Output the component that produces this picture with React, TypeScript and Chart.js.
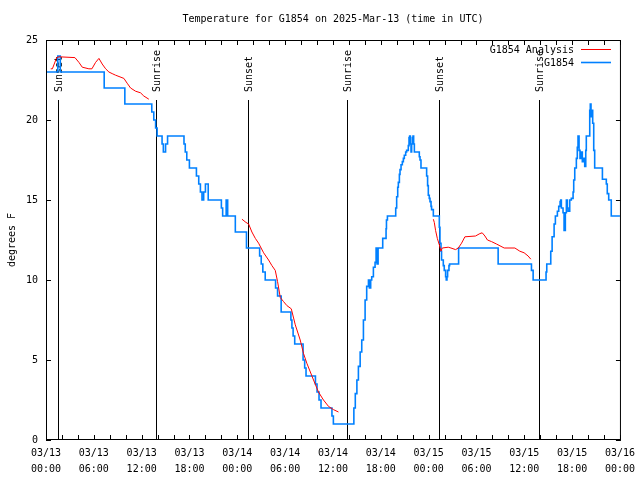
import React, { useEffect, useRef } from 'react';
import { Chart, registerables } from 'chart.js';

Chart.register(...registerables);

const TITLE = 'Temperature for G1854 on 2025-Mar-13 (time in UTC)';
const Y_TITLE = 'degrees F';
const SERIES_NAMES = ['G1854 Analysis', 'G1854'];
const SERIES_COLORS = ['#ff0000', '#0080ff'];

const xTickDates = ['03/13', '03/13', '03/13', '03/13', '03/14', '03/14', '03/14', '03/14', '03/15', '03/15', '03/15', '03/15', '03/16'];
const xTickTimes = ['00:00', '06:00', '12:00', '18:00', '00:00', '06:00', '12:00', '18:00', '00:00', '06:00', '12:00', '18:00', '00:00'];

// hours since 03/13 00:00 UTC
const eventHours = [1.48, 13.77, 25.3, 37.82, 49.34, 61.86];
const eventLabels = ['Sunset', 'Sunrise', 'Sunset', 'Sunrise', 'Sunset', 'Sunrise'];

const analysisHours = [
  0.59, 0.8, 1.34, 1.63, 3.63, 4.13, 4.55, 5.38, 5.76, 6.22, 6.64, 7.05, 7.48, 7.89, 8.3, 8.73, 9.77, 10.18, 10.61, 11.23, 11.86, 12.27, 12.9,
  18,
  24.58, 25.08, 25.42, 25.83, 26.26, 26.67, 27.3, 27.92, 28.34, 28.76, 29.05, 29.39, 29.8, 30.22, 30.77, 31.27, 31.89, 32.31, 32.72, 33.56, 34.18, 34.81, 35.44, 36.06, 36.69,
  42,
  48.59, 48.71, 48.87, 49.09, 49.34, 49.55, 49.71, 50.46, 50.8, 51.38, 51.72, 52.13, 52.55, 53.88, 54.43, 54.72, 55.06, 55.38, 55.89, 56.51, 57.48, 58.82, 59.44, 59.98, 60.48, 60.82,
];
const analysisTemps: (number | null)[] = [
  23.2, 23.2, 23.9, 23.95, 23.9, 23.6, 23.3, 23.2, 23.2, 23.6, 23.85, 23.5, 23.2, 23.0, 22.9, 22.8, 22.6, 22.3, 22.0, 21.8, 21.7, 21.5, 21.3,
  null,
  13.8, 13.6, 13.5, 13.0, 12.6, 12.3, 11.7, 11.25, 10.9, 10.6, 9.9, 8.9, 8.65, 8.4, 8.2, 7.2, 6.25, 5.4, 4.8, 3.75, 3.0, 2.5, 2.1, 1.9, 1.75,
  null,
  13.8, 13.6, 13.1, 12.6, 12.2, 11.8, 12.0, 12.05, 12.0, 11.9, 12.0, 12.3, 12.7, 12.75, 12.9, 12.95, 12.75, 12.5, 12.4, 12.25, 12.0, 12.0, 11.8, 11.7, 11.5, 11.3,
];

const obsHours = [
  0, 1.48, 1.79, 7.3, 9.89, 13.27, 13.52, 13.75, 13.94, 14.56, 14.72, 15.0, 15.25, 17.31, 17.47, 17.66, 17.99, 18.87, 19.16, 19.37, 19.57, 19.78, 20.0, 20.35,
  22.0, 22.16, 22.6, 22.79, 23.75, 25.15, 26.8, 27.0, 27.2, 27.5, 28.8, 29.05, 29.5, 30.72, 30.85, 31.0, 31.2, 32.25, 32.45, 32.62, 33.8, 34.0, 34.25, 34.5, 35.87, 36.05,
  38.62, 38.8, 39.0, 39.19, 39.41, 39.61, 39.82, 40.03, 40.23, 40.45, 40.57, 40.73, 40.86, 41.07, 41.28, 41.41, 41.53, 41.66, 42.24, 42.66, 42.71, 42.83, 43.04,
  43.87, 43.99, 44.12, 44.2, 44.33, 44.41, 44.54, 44.7, 44.83, 44.95, 45.12, 45.24, 45.45, 45.54, 45.62, 45.71, 45.79, 45.87, 45.96, 46.04, 46.12, 46.21,
  46.83, 46.92, 47.04, 47.75, 47.87, 47.96, 48.08, 48.17, 48.3, 48.37, 48.59, 49.34, 49.42, 49.55, 49.62, 49.84, 49.96, 50.13, 50.21, 50.3, 50.38, 50.55, 50.63,
  51.76, 56.72, 60.9, 61.11, 62.73, 62.82, 63.32, 63.49, 63.74, 63.9, 64.15, 64.32, 64.49, 64.57, 64.65, 64.86, 64.99, 65.15, 65.28, 65.4, 65.49, 65.7, 65.9,
  66.12, 66.2, 66.33, 66.53, 66.65, 66.74, 66.87, 66.99, 67.15, 67.28, 67.46, 67.58, 67.71, 67.78, 68.21, 68.28, 68.37, 68.46, 68.58, 68.71, 68.83,
  69.8, 70.29, 70.41, 70.59, 70.91, 72,
];
const obsTemps = [
  23, 24, 23, 22, 21, 20.5, 20, 19.5, 19, 18.5, 18, 18.5, 19, 18.5, 18, 17.5, 17, 16.5, 16, 15.5, 15, 15.5, 16, 15,
  14.5, 14, 15, 14, 13, 12, 11.5, 11, 10.5, 10, 9.5, 9, 8, 7.5, 7, 6.5, 6, 5, 4.5, 4, 3.5, 3, 2.5, 2, 1.5, 1,
  2, 2.9, 3.75, 4.6, 5.5, 6.25, 7.5, 8.75, 9.6, 10, 9.5, 10, 10.2, 10.8, 11.1, 12, 11, 12, 12.6, 13.2, 13.75, 14, 14,
  14.5, 15.2, 15.8, 16.1, 16.6, 16.9, 17.2, 17.4, 17.6, 17.8, 18.0, 18.1, 18.4, 18.9, 19, 18.5, 18, 18.5, 18.9, 19, 18.5, 18,
  17.7, 17.5, 17, 16.5, 15.9, 15.3, 15.1, 14.9, 14.6, 14.4, 14, 13.3, 12.3, 11.8, 11.25, 10.9, 10.6, 10.2, 10, 10.2, 10.6, 10.9, 11,
  12, 11, 10.6, 10, 10.5, 11, 11.8, 12.7, 13.5, 14, 14.3, 14.6, 14.9, 15, 14.5, 14.2, 13.1, 14.2, 15, 14.5, 14.3, 15, 15.1,
  15.5, 16.25, 17, 17.6, 18.3, 19, 18.1, 17.6, 18, 17.4, 17.6, 17.1, 18.1, 19, 20.6, 21, 20.2, 20.6, 19.8, 18.1, 17,
  16.3, 16, 15.4, 15, 14, 14,
];

const FONT_FAMILY = '"DejaVu Sans Mono", "Liberation Mono", monospace';
const FONT = `10px ${FONT_FAMILY}`;

const decorPlugin = {
  id: 'decor',
  beforeDatasetsDraw(chart: any) {
    const { ctx, chartArea: a, scales } = chart;
    const xs = scales.x;
    ctx.save();
    ctx.strokeStyle = '#000';
    ctx.fillStyle = '#000';
    ctx.lineWidth = 1;
    ctx.font = FONT;
    eventHours.forEach((h, i) => {
      const px = Math.round(xs.getPixelForValue(h)) + 0.5;
      ctx.beginPath();
      ctx.moveTo(px, a.top + 60);
      ctx.lineTo(px, a.bottom);
      ctx.stroke();
      ctx.save();
      ctx.translate(px + 1, a.top + 52);
      ctx.rotate(-Math.PI / 2);
      ctx.textAlign = 'left';
      ctx.textBaseline = 'middle';
      ctx.fillText(eventLabels[i], 0, 0);
      ctx.restore();
    });
    ctx.restore();
  },
  afterDraw(chart: any) {
    const { ctx, chartArea: a, scales } = chart;
    const xs = scales.x;
    const ys = scales.y;
    ctx.save();
    ctx.strokeStyle = '#000';
    ctx.fillStyle = '#000';
    ctx.lineWidth = 1;
    // border
    ctx.strokeRect(a.left + 0.5, a.top + 0.5, a.right - a.left, a.bottom - a.top - 1);
    // inward ticks
    ctx.beginPath();
    for (let h = 0; h <= 72; h += 2) {
      const px = Math.round(xs.getPixelForValue(h)) + 0.5;
      ctx.moveTo(px, a.bottom);
      ctx.lineTo(px, a.bottom - 5);
      ctx.moveTo(px, a.top);
      ctx.lineTo(px, a.top + 5);
    }
    for (let v = 0; v <= 25; v += 5) {
      const py = Math.round(ys.getPixelForValue(v)) + 0.5;
      ctx.moveTo(a.left, py);
      ctx.lineTo(a.left + 5, py);
      ctx.moveTo(a.right + 1, py);
      ctx.lineTo(a.right - 4, py);
    }
    ctx.stroke();
    // title
    ctx.font = FONT;
    ctx.textAlign = 'center';
    ctx.textBaseline = 'middle';
    ctx.fillText(TITLE, (a.left + a.right) / 2, 19);
    // legend
    ctx.textAlign = 'right';
    SERIES_NAMES.forEach((name, i) => {
      const cy = 50 + i * 13;
      ctx.fillStyle = '#000';
      ctx.fillText(name, 574, cy);
      ctx.strokeStyle = SERIES_COLORS[i];
      ctx.lineWidth = i === 0 ? 1 : 1.6;
      ctx.beginPath();
      ctx.moveTo(581, cy - 0.5);
      ctx.lineTo(611, cy - 0.5);
      ctx.stroke();
    });
    ctx.restore();
  },
};

export default function App() {
  const ref = useRef<HTMLCanvasElement | null>(null);

  useEffect(() => {
    document.body.style.margin = '0';
    const canvas = ref.current;
    if (!canvas) return;
    Chart.defaults.color = '#000';
    const chart = new Chart(canvas, {
      type: 'line',
      data: {
        datasets: [
          {
            label: SERIES_NAMES[0],
            data: analysisHours.map((h, i) => ({ x: h, y: analysisTemps[i] })) as any,
            borderColor: SERIES_COLORS[0],
            borderWidth: 1,
            pointRadius: 0,
            tension: 0,
            spanGaps: false,
            fill: false,
          },
          {
            label: SERIES_NAMES[1],
            data: obsHours.map((h, i) => ({ x: h, y: obsTemps[i] })),
            borderColor: SERIES_COLORS[1],
            borderWidth: 1.6,
            pointRadius: 0,
            stepped: true,
            fill: false,
          },
        ],
      },
      options: {
        responsive: false,
        animation: false,
        devicePixelRatio: 1,
        layout: { padding: { top: 40, right: 19, left: 0, bottom: 0 } },
        plugins: {
          legend: { display: false },
          title: { display: false },
          tooltip: { enabled: false },
        },
        scales: {
          x: {
            type: 'linear',
            min: 0,
            max: 72,
            grid: { display: false, drawTicks: false },
            border: { display: false },
            afterFit: (s: any) => { s.height = 40; },
            ticks: {
              stepSize: 6,
              autoSkip: false,
              maxRotation: 0,
              padding: 5,
              color: '#000',
              font: { family: FONT_FAMILY, size: 10, lineHeight: 1.6 },
              callback: (v: any) => {
                const i = Math.round(Number(v) / 6);
                return [xTickDates[i], xTickTimes[i]];
              },
            },
          },
          y: {
            type: 'linear',
            min: 0,
            max: 25,
            grid: { display: false, drawTicks: false },
            border: { display: false },
            afterFit: (s: any) => { s.width = 46; },
            ticks: {
              stepSize: 5,
              padding: 8,
              color: '#000',
              font: { family: FONT_FAMILY, size: 10 },
            },
            title: {
              display: true,
              text: Y_TITLE,
              color: '#000',
              font: { family: FONT_FAMILY, size: 10 },
              padding: { top: 6, bottom: 0 },
            },
          },
        },
      },
      plugins: [decorPlugin],
    });
    return () => chart.destroy();
  }, []);

  return (
    <div style={{ width: 640, height: 480, background: '#fff' }}>
      <canvas ref={ref} width={640} height={480} style={{ display: 'block' }} />
    </div>
  );
}
